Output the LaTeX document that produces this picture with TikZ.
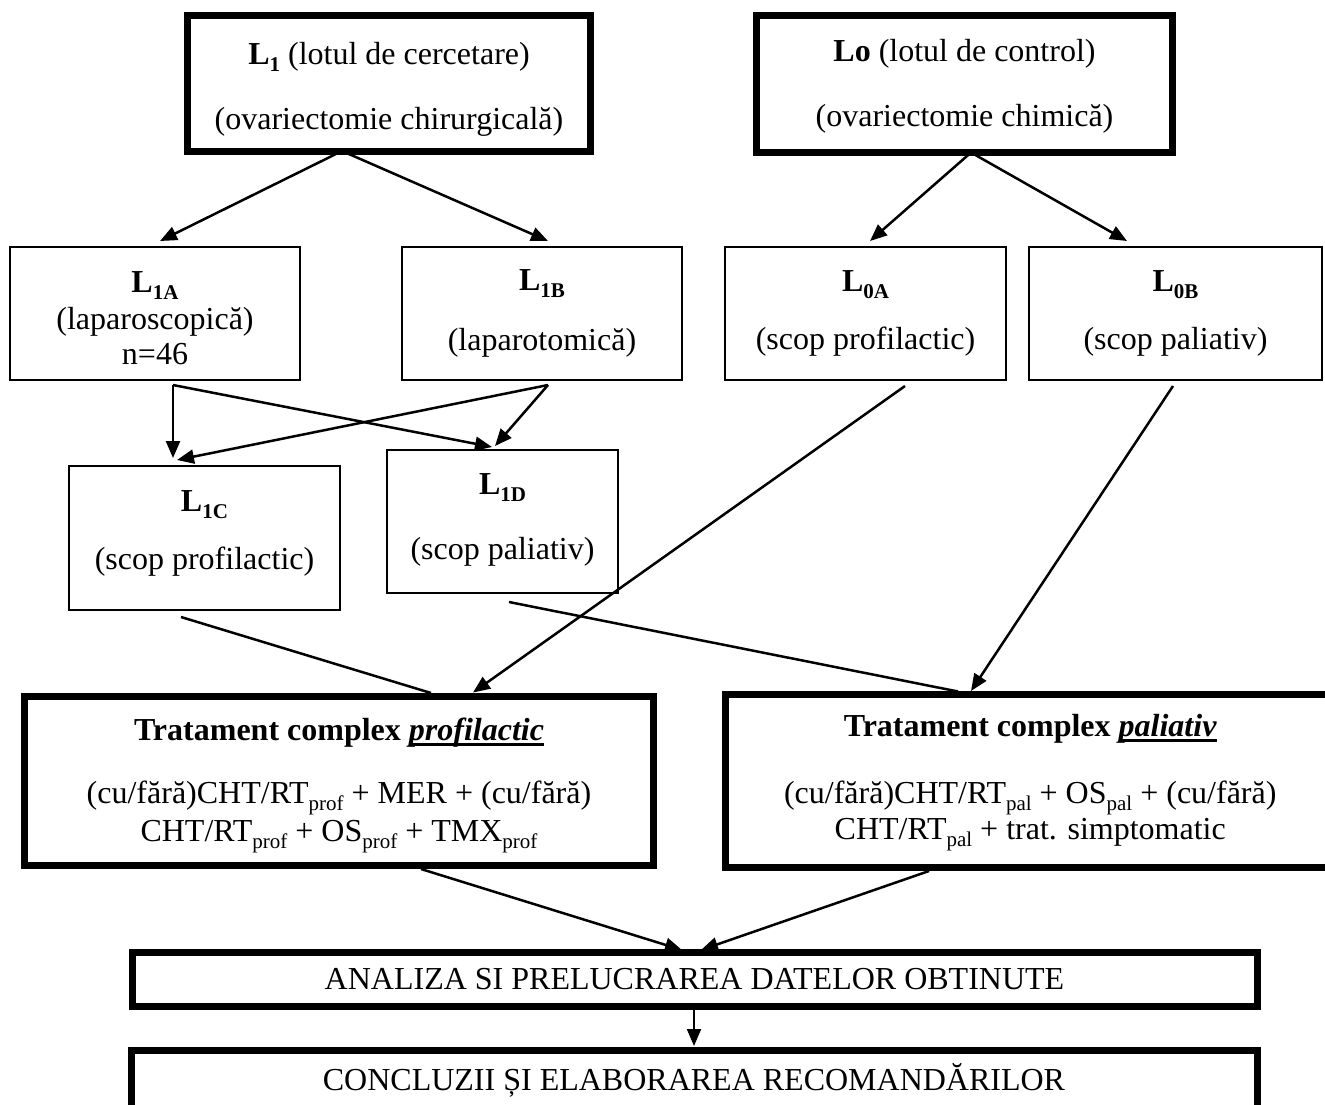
\documentclass[tikz,border=0pt]{standalone}
\usepackage{fontspec}
\setmainfont{Liberation Serif}
\usetikzlibrary{arrows.meta}
\newcommand\subs[1]{\raisebox{-0.22em}{\fontsize{21}{21}\selectfont #1}}
\newcommand\myul[1]{\setbox0\hbox{#1}\rlap{\rule[-5pt]{\wd0}{2.5pt}}\box0}
\newcommand\topstrut[1]{\rule{0pt}{#1}}
\newcommand\botstrut[1]{\rule[-#1]{0pt}{0pt}}
\begin{document}
\begin{tikzpicture}[x=1pt,y=-1pt,
  every node/.style={font=\fontsize{32}{36}\selectfont, align=center, inner sep=0pt, outer sep=0pt},
  thickbox/.style={draw, line width=7pt},
  thinbox/.style={draw, line width=2pt},
  arr/.style={line width=2.5pt, -{Triangle[length=17pt,width=14pt]}},
  conn/.style={line width=2.5pt}]
\useasboundingbox (0,0) rectangle (1325,1104);
\clip (0,0) rectangle (1325,1104);

% top row
\node[thickbox, minimum width=403pt, minimum height=136pt] (L1) at (389,83)
  {\topstrut{34pt}\textbf{L\subs{1}} (lotul de cercetare)\\[29pt](ovariectomie chirurgicală)};
\node[thickbox, minimum width=416pt, minimum height=137pt] (Lo) at (964.5,84)
  {\topstrut{26pt}\textbf{Lo} (lotul de control)\\[29pt](ovariectomie chimică)};

% second row
\node[thinbox, minimum width=290pt, minimum height=133pt] (L1A) at (155,313.5)
  {\topstrut{31pt}\textbf{L\subs{1A}}\\[1pt](laparoscopică)\\[-1pt]n=46};
\node[thinbox, minimum width=280pt, minimum height=133pt] (L1B) at (542,313.5)
  {\textbf{L\subs{1B}}\\[24pt](laparotomică)};
\node[thinbox, minimum width=281pt, minimum height=133pt] (L0A) at (865.5,313.5)
  {\textbf{L\subs{0A}}\\[22pt](scop profilactic)};
\node[thinbox, minimum width=293pt, minimum height=133pt] (L0B) at (1175.5,313.5)
  {\textbf{L\subs{0B}}\\[22pt](scop paliativ)};

% third row
\node[thinbox, minimum width=271pt, minimum height=144pt] (L1C) at (204.5,538)
  {\textbf{L\subs{1C}}\\[22pt](scop profilactic)\botstrut{16pt}};
\node[thinbox, minimum width=231pt, minimum height=143pt] (L1D) at (502.5,521.5)
  {\textbf{L\subs{1D}}\\[29pt](scop paliativ)\botstrut{10pt}};

% treatment boxes
\node[thickbox, minimum width=629pt, minimum height=169pt] (Prof) at (339,781)
  {\topstrut{32pt}\textbf{Tratament complex \myul{\textit{profilactic}}}\\[27pt]
   (cu/fără)CHT/RT\subs{prof} + MER + (cu/fără)\\[2pt]
   CHT/RT\subs{prof} + OS\subs{prof} + TMX\subs{prof}};
\node[thickbox, minimum width=609.5pt, minimum height=173pt] (Pal) at (1030.25,781)
  {\topstrut{26pt}\textbf{Tratament complex \myul{\textit{paliativ}}}\\[31pt]
   (cu/fără)CHT/RT\subs{pal} + OS\subs{pal} + (cu/fără)\\[0pt]
   CHT/RT\subs{pal} + trat. simptomatic};

% bottom boxes
\node[thickbox, minimum width=1125pt, minimum height=54pt] (Ana) at (694.5,979.5)
  {ANALIZA SI PRELUCRAREA DATELOR OBTINUTE};
\node[thickbox, minimum width=1126pt, minimum height=60pt] (Con) at (694,1080)
  {CONCLUZII ȘI ELABORAREA RECOMANDĂRILOR};

% connectors: top row to second row
\draw[arr] ([xshift=-47pt]L1.south) -- ([xshift=5pt,yshift=6pt]L1A.north);
\draw[arr] ([xshift=-47pt]L1.south) -- ([xshift=6pt,yshift=6pt]L1B.north);
\draw[arr] ([xshift=6.5pt]Lo.south) -- ([xshift=4.5pt,yshift=6pt]L0A.north);
\draw[arr] ([xshift=6.5pt]Lo.south) -- ([xshift=-48.5pt,yshift=6pt]L0B.north);

% second row to third row
\draw[arr] ([xshift=18pt,yshift=-5pt]L1A.south) -- ([xshift=-31.5pt,yshift=8pt]L1C.north);
\draw[arr] ([xshift=18pt,yshift=-5pt]L1A.south) -- ([xshift=-10.5pt,yshift=3pt]L1D.north);
\draw[arr] ([xshift=6pt,yshift=-5pt]L1B.south) -- ([xshift=-27.5pt,yshift=6pt]L1C.north);
\draw[arr] ([xshift=6pt,yshift=-5pt]L1B.south) -- ([xshift=-7.5pt,yshift=4pt]L1D.north);

% to treatment boxes
\draw[arr] ([xshift=39.5pt,yshift=-6pt]L0A.south) -- ([xshift=134pt,yshift=4pt]Prof.north);
\draw[arr] ([xshift=-2.5pt,yshift=-6pt]L0B.south) -- ([xshift=-59.25pt,yshift=3.5pt]Pal.north);
\draw[conn] ([xshift=-23.5pt,yshift=-7pt]L1C.south) -- ([xshift=92pt,yshift=3.5pt]Prof.north);
\draw[conn] ([xshift=6.5pt,yshift=-9pt]L1D.south) -- ([xshift=-72.25pt,yshift=3pt]Pal.north);

% to analysis
\draw[arr] ([xshift=82pt,yshift=-3.5pt]Prof.south) -- ([xshift=-12.5pt,yshift=2.5pt]Ana.north);
\draw[arr] ([xshift=-101.25pt,yshift=-3.5pt]Pal.south) -- ([xshift=6.5pt,yshift=2.5pt]Ana.north);
\draw[arr, line width=2pt] ([xshift=-0.5pt,yshift=-3.5pt]Ana.south) -- ([yshift=4pt]Con.north);
\end{tikzpicture}
\end{document}
